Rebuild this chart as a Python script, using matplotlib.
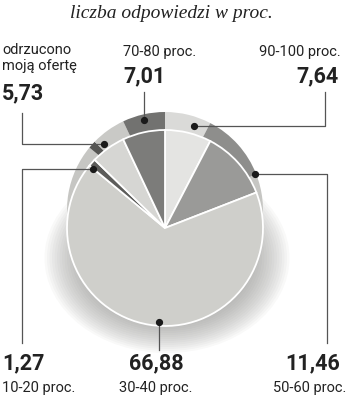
import numpy as np
import matplotlib.pyplot as plt
from matplotlib.patches import Ellipse

# data
labels = ["90-100 proc.", "50-60 proc.", "30-40 proc.", "10-20 proc.", "odrzucono\nmoją ofertę", "70-80 proc."]
values = [7.64, 11.46, 66.88, 1.27, 5.73, 7.01]
value_text = ["7,64", "11,46", "66,88", "1,27", "5,73", "7,01"]

front_colors = ["#e4e4e2", "#9a9a98", "#cfcfcb", "#5c5c5a", "#d6d6d3", "#7c7c7a"]
back_colors = ["#dadad8", "#8e8e8c", "#c6c6c3", "#555553", "#c9c9c6", "#727270"]

W, H = 350, 397
fig = plt.figure(figsize=(3.5, 3.97), dpi=100)
ax = fig.add_axes([0, 0, 1, 1])

def Y(y):
    return H - y

cx, cy = 165, 228      # front face centre (image px)
lift = 18              # how far the back disc is shifted up
R = 98

# soft shadow under the disc
for i in range(16):
    ax.add_patch(Ellipse((167, Y(258)), 170 + i * 5, 130 + i * 4,
                         color="#8a8a88", alpha=0.05, lw=0, zorder=0))

# back disc (rim)
ax.pie(values, colors=back_colors, startangle=90, counterclock=False,
       center=(cx, Y(cy - lift)), radius=R, frame=True,
       wedgeprops=dict(linewidth=0))
# front disc
ax.pie(values, colors=front_colors, startangle=90, counterclock=False,
       center=(cx, Y(cy)), radius=R, frame=True,
       wedgeprops=dict(edgecolor="white", linewidth=1.3))
ax.set_xlim(0, W)
ax.set_ylim(0, H)
ax.set_aspect("equal")
ax.axis("off")

# dot placement: (fraction inside wedge, radius, on back disc?)
dot_pos = [(0.69, 89, True), (0.98, 97, True), (0.477, 94, False),
           (-0.1, 93, False), (0.15, 90, True), (0.48, 92, True)]
start = np.cumsum([0] + values[:-1]) * 3.6
span = np.array(values) * 3.6
dots = []
for i, (f, r, back) in enumerate(dot_pos):
    a = np.radians(start[i] + f * span[i])
    ccy = cy - lift if back else cy
    dots.append((cx + r * np.sin(a), ccy - r * np.cos(a)))

# leader lines: corner points after the dot (None = keep previous coord)
leaders = [
    [(325, None), (325, 92)],
    [(327, None), (327, 343)],
    [(None, 350)],
    [(22, None), (22, 343)],
    [(22, None), (22, 113)],
    [(None, 92)],
]
lc = "#555555"
for (dx, dy), pts in zip(dots, leaders):
    xs, ys = [dx], [dy]
    for px, py in pts:
        xs.append(xs[-1] if px is None else px)
        ys.append(ys[-1] if py is None else py)
    ax.plot(xs, [Y(v) for v in ys], color=lc, lw=0.9, zorder=5)
    ax.plot(dx, Y(dy), "o", color="#1a1a1a", ms=4.2, zorder=6)

sans = ["Roboto", "DejaVu Sans"]
small = 10.5
big = 15.5
tc = "#222222"

# title
ax.text(171, Y(13), "liczba odpowiedzi w proc.", ha="center", va="center",
        fontsize=14, style="italic", family=["Liberation Serif", "DejaVu Serif"],
        color=tc)

# top labels
ax.text(123, Y(52), labels[5], ha="left", va="center", fontsize=small, family=sans, color=tc)
ax.text(123, Y(76), value_text[5], ha="left", va="center", fontsize=big, weight="bold", family=sans, color=tc)
ax.text(341, Y(52), labels[0], ha="right", va="center", fontsize=small, family=sans, color=tc)
ax.text(339, Y(76), value_text[0], ha="right", va="center", fontsize=big, weight="bold", family=sans, color=tc)
ax.text(2, Y(58), labels[4], ha="left", va="center", fontsize=small, family=sans, color=tc,
        linespacing=1.15)
ax.text(2, Y(93), value_text[4], ha="left", va="center", fontsize=big, weight="bold", family=sans, color=tc)

# bottom labels
ax.text(2, Y(363), value_text[3], ha="left", va="center", fontsize=big, weight="bold", family=sans, color=tc)
ax.text(2, Y(388), labels[3], ha="left", va="center", fontsize=small, family=sans, color=tc)
ax.text(156, Y(363), value_text[2], ha="center", va="center", fontsize=big, weight="bold", family=sans, color=tc)
ax.text(156, Y(388), labels[2], ha="center", va="center", fontsize=small, family=sans, color=tc)
ax.text(340, Y(363), value_text[1], ha="right", va="center", fontsize=big, weight="bold", family=sans, color=tc)
ax.text(346, Y(388), labels[1], ha="right", va="center", fontsize=small, family=sans, color=tc)

plt.savefig("out.png", dpi=100)
